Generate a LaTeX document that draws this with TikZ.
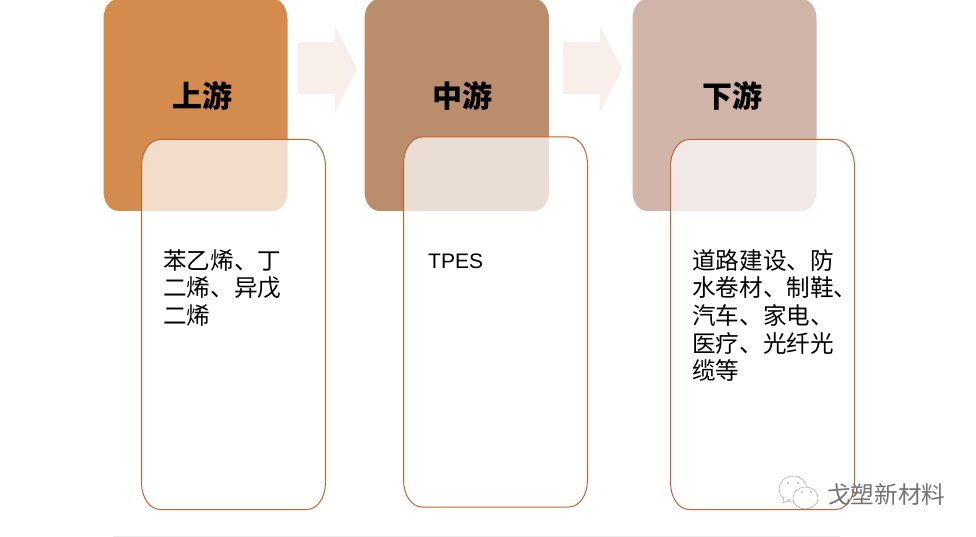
\documentclass[tikz,border=0pt]{standalone}
\usepackage{fontspec}
\setmainfont{Liberation Sans}
\newfontfamily\cjk{Noto Sans CJK SC}
\newcommand{\softbox}[5][]{% x0,y0,x1,y1
  \path[#1] (#2+19,#3) -- (#4-19,#3) .. controls (#4-8,#3) and (#4,#3+12) .. (#4,#3+27)
    -- (#4,#5-27) .. controls (#4,#5-12) and (#4-8,#5) .. (#4-19,#5)
    -- (#2+19,#5) .. controls (#2+8,#5) and (#2,#5-12) .. (#2,#5-27)
    -- (#2,#3+27) .. controls (#2,#3+12) and (#2+8,#3) .. (#2+19,#3) -- cycle;}
\newcommand{\headbox}[5][]{% x0,y0,x1,y1
  \path[#1] (#2+15,#3) -- (#4-15,#3) .. controls (#4-6,#3) and (#4,#3+9) .. (#4,#3+20)
    -- (#4,#5-20) .. controls (#4,#5-9) and (#4-6,#5) .. (#4-15,#5)
    -- (#2+15,#5) .. controls (#2+6,#5) and (#2,#5-9) .. (#2,#5-20)
    -- (#2,#3+20) .. controls (#2,#3+9) and (#2+6,#3) .. (#2+15,#3) -- cycle;}
\newcommand{\softarrow}[1]{%
  \path[arrowshape] (#1,42) -- (#1+37,42) -- (#1+37,26) -- (#1+59,69) -- (#1+37,112) -- (#1+37,94) -- (#1,94) -- cycle;}
\tikzset{
  topbox/.style={fill=#1},
  arrowshape/.style={fill=arrowtint},
  lowbox/.style={draw=edgeorange,line width=1pt,fill=white,fill opacity=.71},
  titletext/.style={font=\cjk\bfseries\fontsize{30}{34}\selectfont,text=black,inner sep=0pt,anchor=center},
  bodytext/.style={font=\cjk\fontsize{23.6}{27.7}\selectfont,text=black,inner sep=0pt,anchor=north west,align=left},
  marktext/.style={font=\cjk\fontsize{23.6}{26}\selectfont,text=black!55,inner sep=0pt,anchor=west},
  bubble/.style={draw=black!35,line width=.5pt,fill=white}
}
\definecolor{arrowtint}{HTML}{F9EFEA}
\definecolor{edgeorange}{HTML}{C0652E}
\definecolor{upc}{HTML}{D38C4E}
\definecolor{midc}{HTML}{BA8E6C}
\definecolor{downc}{HTML}{D0B4A8}
\begin{document}
\begin{tikzpicture}[x=1pt,y=-1pt]
\useasboundingbox (0,0) rectangle (976,537);
\clip (0,0) rectangle (976,537);
\fill[white] (0,0) rectangle (976,537);
\headbox[topbox=upc]{103.5}{-1}{287.5}{211}
\headbox[topbox=midc]{364.5}{-1}{549}{211}
\headbox[topbox=downc]{632.5}{-1}{816.5}{211}
\softarrow{298}
\softarrow{563}
\softbox[lowbox]{141.5}{139.5}{325.5}{509.5}
\softbox[lowbox]{403.5}{137}{587.5}{507}
\softbox[lowbox]{670.5}{139.5}{854.5}{509.5}
\node[titletext] (t1) at (202,96) {上游};
\node[titletext] (t2) at (462,96) {中游};
\node[titletext] (t3) at (732,96) {下游};
\node[bodytext] (b1) at (163,249) {苯乙烯、丁\\二烯、异戊\\二烯};
\node[bodytext,font=\fontsize{21}{27.7}\selectfont] (b2) at (428,253.5) {TPES};
\node[bodytext] (b3) at (692,249) {道路建设、防\\水卷材、制鞋、\\汽车、家电、\\医疗、光纤光\\缆等};
\draw[line width=.6pt,black!8] (113,536) -- (840,536);
% watermark
\draw[bubble] (793,489) ellipse (14 and 13);
\draw[bubble] (784,496) -- (783,503) -- (791,499);
\draw[bubble] (805.5,498) ellipse (12.5 and 11);
\node[marktext] (wm) at (827,494) {戈塑新材料};
\fill[black!45] (788,483) circle (.9) (798,483) circle (.9) (802,492) circle (.9) (811,492) circle (.9);
\end{tikzpicture}
\end{document}
